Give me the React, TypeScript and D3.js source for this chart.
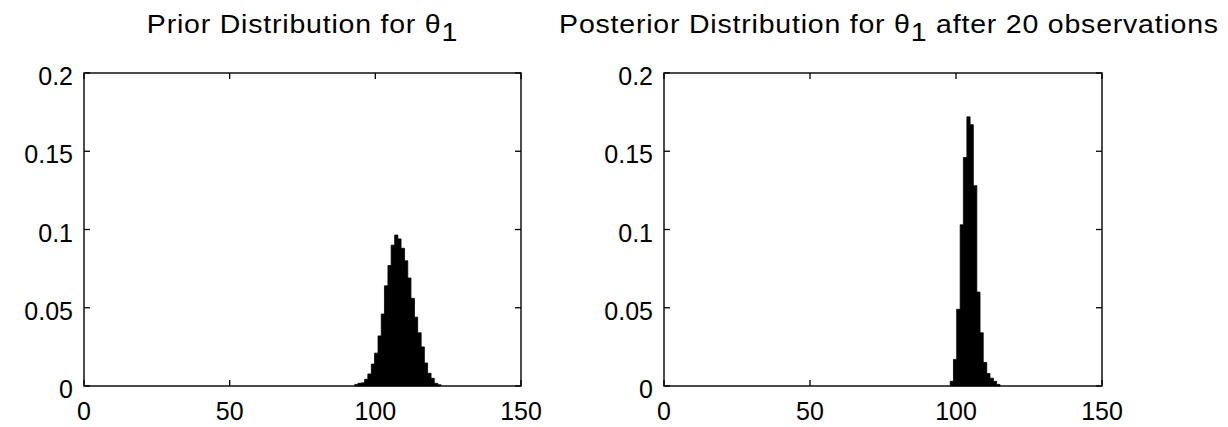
import React, { useEffect, useRef } from "react";
import { select, scaleLinear, area, curveStepAfter } from "d3";

// histogram bin centres (theta_1) and probability per bin
const binWidth = 1.14;

const priorCenters = [
  93.5, 94.6, 95.8, 96.9, 98.0, 99.2, 100.3, 101.5, 102.6, 103.7, 104.9, 106.0,
  107.2, 108.3, 109.4, 110.6, 111.7, 112.8, 114.0, 115.1, 116.3, 117.4, 118.5,
  119.7, 120.8, 122.0,
];
const priorProb = [
  0.001, 0.0017, 0.002, 0.0043, 0.0077, 0.014, 0.021, 0.032, 0.046, 0.064,
  0.077, 0.09, 0.0965, 0.094, 0.088, 0.08, 0.069, 0.056, 0.044, 0.034, 0.025,
  0.0147, 0.0081, 0.0049, 0.0017, 0.0008,
];

const postCenters = [
  98.6, 99.7, 100.8, 102.0, 103.1, 104.3, 105.4, 106.5, 107.7, 108.8, 109.9,
  111.1, 112.2, 113.4, 114.5,
];
const postProb = [
  0.003, 0.017, 0.049, 0.103, 0.146, 0.172, 0.167, 0.128, 0.06, 0.034, 0.015,
  0.008, 0.005, 0.003, 0.001,
];

const xTicks = [0, 50, 100, 150];
const yTicks = [0, 0.05, 0.1, 0.15, 0.2];
const yTickLabels = ["0", "0.05", "0.1", "0.15", "0.2"];

const titles = [
  { pre: "Prior Distribution for \u03b8", post: "" },
  { pre: "Posterior Distribution for \u03b8", post: " after 20 observations" },
];

const App = () => {
  const ref = useRef<SVGSVGElement>(null);

  useEffect(() => {
    const svg = select(ref.current);
    svg.selectAll("*").remove();
    const top = 73;
    const bottom = 386;
    const font = "'Liberation Sans', Arial, sans-serif";
    const panels = [
      { left: 84, right: 521, centers: priorCenters, probs: priorProb, title: titles[0], shift: 0 },
      { left: 664, right: 1102, centers: postCenters, probs: postProb, title: titles[1], shift: 6 },
    ];

    panels.forEach((p) => {
      const x = scaleLinear().domain([0, 150]).range([p.left, p.right]);
      const y = scaleLinear().domain([0, 0.2]).range([bottom, top]);
      const g = svg.append("g");

      // histogram as one stepped area (left bin edges + closing edge)
      const steps = p.centers.map((c, i) => ({ e: c - binWidth / 2, v: p.probs[i] }));
      steps.push({ e: p.centers[p.centers.length - 1] + binWidth / 2, v: 0 });
      const hist = area<{ e: number; v: number }>()
        .x((d) => x(d.e))
        .y0(y(0))
        .y1((d) => y(d.v))
        .curve(curveStepAfter);
      g.append("path")
        .datum(steps)
        .attr("d", hist)
        .attr("fill", "#000")
        .attr("stroke", "#000")
        .attr("stroke-width", 0.8);

      // box
      g.append("rect")
        .attr("x", p.left)
        .attr("y", top)
        .attr("width", p.right - p.left)
        .attr("height", bottom - top)
        .attr("fill", "none")
        .attr("stroke", "#000")
        .attr("stroke-width", 1.4);

      const tl = 6;
      xTicks.forEach((t) => {
        g.append("line")
          .attr("x1", x(t)).attr("x2", x(t))
          .attr("y1", bottom).attr("y2", bottom - tl)
          .attr("stroke", "#000").attr("stroke-width", 1.3);
        g.append("line")
          .attr("x1", x(t)).attr("x2", x(t))
          .attr("y1", top).attr("y2", top + tl)
          .attr("stroke", "#000").attr("stroke-width", 1.3);
        g.append("text")
          .attr("x", x(t))
          .attr("y", bottom + 34)
          .attr("text-anchor", "middle")
          .attr("font-family", font)
          .attr("font-size", 25)
          .text(t);
      });
      yTicks.forEach((t, i) => {
        g.append("line")
          .attr("x1", p.left).attr("x2", p.left + tl)
          .attr("y1", y(t)).attr("y2", y(t))
          .attr("stroke", "#000").attr("stroke-width", 1.3);
        g.append("line")
          .attr("x1", p.right).attr("x2", p.right - tl)
          .attr("y1", y(t)).attr("y2", y(t))
          .attr("stroke", "#000").attr("stroke-width", 1.3);
        g.append("text")
          .attr("x", p.left - 11)
          .attr("y", y(t) + 3)
          .attr("text-anchor", "end")
          .attr("dominant-baseline", "central")
          .attr("font-family", font)
          .attr("font-size", 25)
          .text(yTickLabels[i]);
      });

      // title with subscript, slightly widened like the original export
      const cx = (p.left + p.right) / 2 + p.shift;
      const title = g.append("text")
        .attr("transform", `translate(${cx},33) scale(1.14,1)`)
        .attr("text-anchor", "middle")
        .attr("font-family", font)
        .attr("font-size", 25)
        .attr("letter-spacing", 0.7);
      title.append("tspan").text(p.title.pre);
      title.append("tspan").attr("dy", 8).text("1");
      title.append("tspan").attr("dy", -8).text(p.title.post);
    });
  }, []);

  return (
    <svg
      ref={ref}
      width={1228}
      height={427}
      style={{ position: "absolute", left: 0, top: 0, background: "#fff" }}
    />
  );
};

export default App;
